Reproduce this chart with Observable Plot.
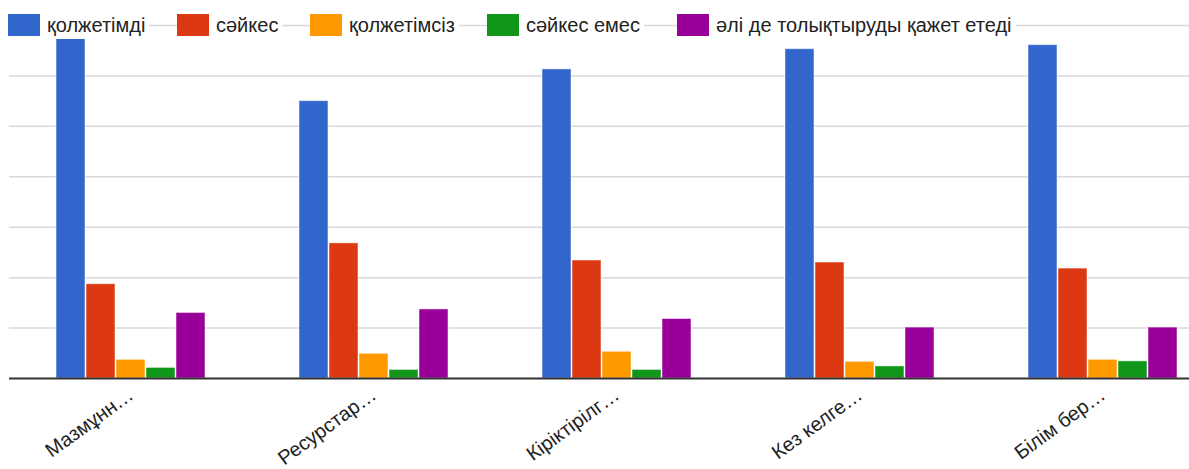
<!DOCTYPE html>
<html><head><meta charset="utf-8">
<script src="https://cdn.jsdelivr.net/npm/d3@7"></script>
<script src="https://cdn.jsdelivr.net/npm/@observablehq/plot@0.6"></script>
<style>
html,body{margin:0;padding:0;background:#fff;overflow:hidden;width:1189px;height:469px}
#wrap{position:relative;width:1189px;height:469px;overflow:hidden}
#chart svg{max-width:none !important;display:block}
#legend{position:absolute;left:0;top:11px;width:1189px;height:28px;font-family:"Liberation Sans",Arial,sans-serif;font-size:20px;color:#222}
.item{position:absolute;top:0;display:flex;align-items:center;background:#fff;height:28px;padding-right:4px}
.sw{width:32px;height:22px;margin-right:7px}
</style></head>
<body><div id="wrap"><div id="chart"></div><div id="legend"></div></div>
<script>
const categories = ["Мазмұнн…", "Ресурстар…", "Кіріктірілг…", "Кез келге…", "Білім бер…"];
const series = ["қолжетімді", "сәйкес", "қолжетімсіз", "сәйкес емес", "әлі де толықтыруды қажет етеді"];
const colors = ["#3366cc", "#dc3912", "#ff9900", "#109618", "#990099"];
const accessible    = [68.2, 55.0, 61.3, 65.3, 66.1];
const suitable      = [18.7, 26.8, 23.4, 23.0, 21.8];
const inaccessible  = [3.7, 4.9, 5.3, 3.3, 3.7];
const notSuitable   = [2.1, 1.7, 1.7, 2.4, 3.4];
const needsWork     = [13.0, 13.7, 11.8, 10.1, 10.1];
const gridTicks     = [10, 20, 30, 40, 50, 60, 70];
const legendLeft    = [8, 177, 310, 487, 677];

const seriesValues = [accessible, suitable, inaccessible, notSuitable, needsWork];
const data = categories.flatMap((c, i) => series.map((s, j) => ({category: c, series: s, value: seriesValues[j][i]})));

const chart = Plot.plot({
  width: 1225, height: 469,
  marginLeft: 8, marginRight: 0, marginTop: 25, marginBottom: 91,
  style: {fontFamily: "'Liberation Sans', Arial, sans-serif", fontSize: "20px", color: "#222", background: "#fff"},
  fx: {domain: categories, paddingInner: 0, paddingOuter: 0, label: null},
  x: {domain: series, paddingInner: 0.02, paddingOuter: 1.54, axis: null},
  y: {domain: [0, 70], axis: null},
  color: {domain: series, range: colors},
  marks: [
    Plot.ruleY(gridTicks, {stroke: "#d9d9d9", strokeWidth: 1.5}),
    Plot.barY(data, {fx: "category", x: "series", y: "value", fill: "series", stroke: "#fff", strokeOpacity: 0.5, strokeWidth: 1}),
    Plot.ruleY([0], {stroke: "#333", strokeWidth: 2}),
    Plot.axisFx({anchor: "bottom", tickRotate: -36, tickSize: 0, tickPadding: 14, label: null, fontSize: 20, textAnchor: "end"})
  ]
});
document.getElementById("chart").appendChild(chart);

const legend = document.getElementById("legend");
series.forEach((s, i) => {
  const item = document.createElement("div");
  item.className = "item";
  item.style.left = legendLeft[i] + "px";
  const sw = document.createElement("span");
  sw.className = "sw";
  sw.style.background = colors[i];
  const t = document.createElement("span");
  t.textContent = s;
  item.appendChild(sw); item.appendChild(t);
  legend.appendChild(item);
});
</script></body></html>
